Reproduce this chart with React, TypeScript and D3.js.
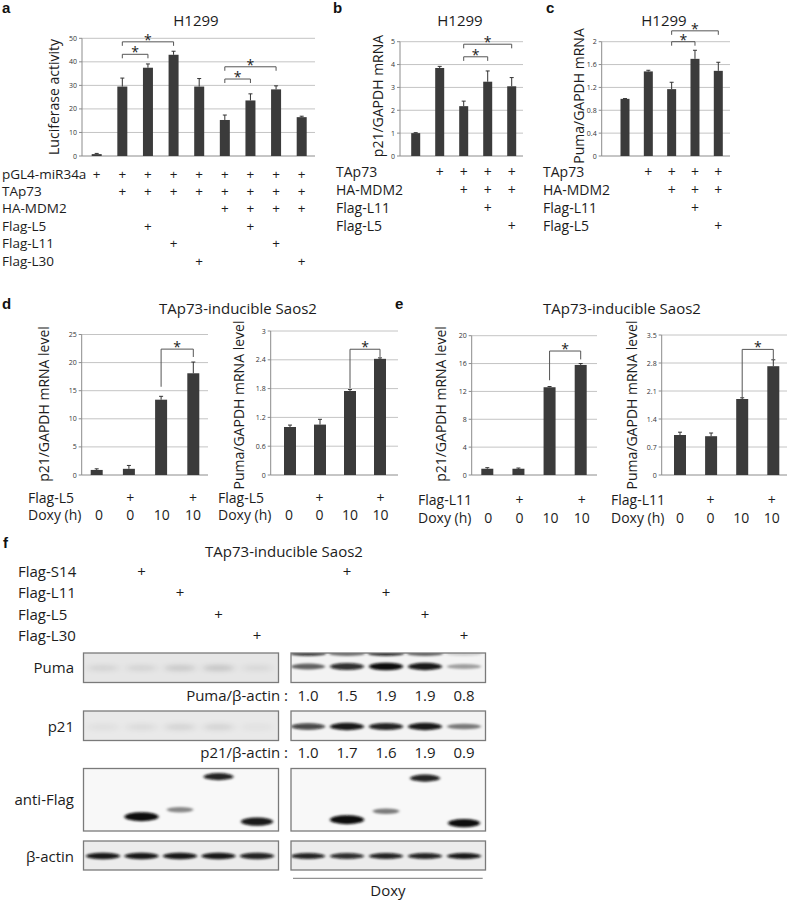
import React from "react";
import * as d3 from "d3";

const FONT = "'Open Sans', 'DejaVu Sans', sans-serif";
const BAR = "#3b3b3b";
const GRID = "#c4c4c4";
const AXIS = "#8c8c8c";
const INK = "#1c1c1c";

// ---------- Panel a (H1299, luciferase)
const aTicks = [0, 10, 20, 30, 40, 50];
const aValues = [0.8, 29.5, 37.5, 43.0, 29.5, 15.3, 23.6, 28.3, 16.5];
const aErrors = [0.3, 3.6, 1.6, 1.5, 3.4, 2.1, 2.8, 1.5, 0.4];
const aRowLabels = ["pGL4-miR34a", "TAp73", "HA-MDM2", "Flag-L5", "Flag-L11", "Flag-L30"];
const aRows = [
  ["+", "+", "+", "+", "+", "+", "+", "+", "+"],
  ["", "+", "+", "+", "+", "+", "+", "+", "+"],
  ["", "", "", "", "", "+", "+", "+", "+"],
  ["", "", "+", "", "", "", "+", "", ""],
  ["", "", "", "+", "", "", "", "+", ""],
  ["", "", "", "", "+", "", "", "", "+"],
];
// [from bar, to bar, bracket level, left end, right end]
const aSig = [
  [1, 2, 43.2, 41.5, 41.5],
  [1, 3, 48.5, 46.8, 46.8],
  [5, 6, 32.7, 31.0, 31.0],
  [5, 7, 37.9, 36.2, 36.2],
];

// ---------- Panel b (p21 mRNA)
const bTicks = [0, 1, 2, 3, 4, 5];
const bValues = [1.0, 3.85, 2.18, 3.25, 3.05];
const bErrors = [0.02, 0.07, 0.22, 0.47, 0.38];
const bcRowLabels = ["TAp73", "HA-MDM2", "Flag-L11", "Flag-L5"];
const bcRows = [
  ["", "+", "+", "+", "+"],
  ["", "", "+", "+", "+"],
  ["", "", "", "+", ""],
  ["", "", "", "", "+"],
];
const bSig = [
  [2, 3, 4.34, 4.16, 4.16],
  [2, 4, 4.89, 4.71, 4.71],
];

// ---------- Panel c (Puma mRNA)
const cTicks = [0, 0.4, 0.8, 1.2, 1.6, 2];
const cValues = [1.0, 1.48, 1.17, 1.7, 1.49];
const cErrors = [0.005, 0.02, 0.12, 0.15, 0.15];
const cSig = [
  [2, 3, 2.0, 1.93, 1.93],
  [2, 4, 2.19, 2.12, 2.12],
];

// ---------- Panel d (Flag-L5, inducible Saos2)
const d1Ticks = [0, 5, 10, 15, 20, 25];
const d1Values = [0.9, 1.1, 13.4, 18.1];
const d1Errors = [0.2, 0.6, 0.6, 2.0];
const d1Sig = [[2, 3, 22.4, 15.7, 21.0]];
const d2Ticks = [0, 0.6, 1.2, 1.8, 2.4, 3];
const d2Values = [1.0, 1.05, 1.75, 2.42];
const d2Errors = [0.04, 0.11, 0.03, 0.02];
const d2Sig = [[2, 3, 2.62, 1.81, 2.46]];
const dFlagRow = ["", "+", "", "+"];
const doxyRow = ["0", "0", "10", "10"];

// ---------- Panel e (Flag-L11, inducible Saos2)
const e1Ticks = [0, 4, 8, 12, 16, 20];
const e1Values = [0.9, 0.9, 12.6, 15.8];
const e1Errors = [0.15, 0.1, 0.1, 0.2];
const e1Sig = [[2, 3, 17.8, 13.6, 16.6]];
const e2Ticks = [0, 0.7, 1.4, 2.1, 2.8, 3.5];
const e2Values = [1.0, 0.97, 1.9, 2.72];
const e2Errors = [0.07, 0.08, 0.03, 0.16];
const e2Sig = [[2, 3, 3.14, 1.93, 2.9]];
const eFlagRow = ["", "+", "", "+"];

// ---------- Panel f (western blots)
const fConstructs = ["Flag-S14", "Flag-L11", "Flag-L5", "Flag-L30"];
const fConstructLane = [1, 2, 3, 4];
const lanes = [0, 1, 2, 3, 4];
const pumaNoDoxy = [0.1, 0.1, 0.16, 0.18, 0.08];
const pumaDoxy = [0.6, 0.85, 1.0, 0.95, 0.35];
const pumaDoxyUpper = [0.8, 0.55, 0.85, 0.6, 0.15];
const p21NoDoxy = [0.05, 0.07, 0.1, 0.1, 0.04];
const p21Doxy = [0.75, 0.95, 0.9, 0.95, 0.5];
const flagNoDoxy = [0, 1.0, 0.45, 0.9, 0.95];
const flagDoxy = [0, 1.0, 0.5, 0.9, 1.0];
const flagMigration = [0, 0.77, 0.66, 0.13, 0.85];
const flagBandSize = [0, 1.0, 0.45, 0.7, 0.85];
const actinNoDoxy = [0.95, 0.95, 0.95, 0.95, 0.9];
const actinDoxy = [0.9, 0.85, 0.9, 0.9, 0.95];
const pumaRatio = ["1.0", "1.5", "1.9", "1.9", "0.8"];
const p21Ratio = ["1.0", "1.7", "1.6", "1.9", "0.9"];

type Sig = number[];

function BarChart(p: {
  values: number[]; errors: number[]; ticks: number[]; sig: Sig[];
  x0: number; x1: number; yTop: number; yBottom: number;
  firstX: number; lastX: number; barW: number;
}) {
  const y = d3.scaleLinear().domain([0, p.ticks[p.ticks.length - 1]]).range([p.yBottom, p.yTop]);
  const x = d3.scalePoint<number>().domain(d3.range(p.values.length)).range([p.firstX, p.lastX]);
  return (
    <g>
      {p.ticks.map((t) => (
        <g key={t}>
          <line x1={p.x0} x2={p.x1} y1={y(t)} y2={y(t)} stroke={t === 0 ? AXIS : GRID} strokeWidth={1} />
          <line x1={p.x0 - 3} x2={p.x0} y1={y(t)} y2={y(t)} stroke={AXIS} strokeWidth={1} />
          <text x={p.x0 - 5} y={y(t)} fontSize={7} textAnchor="end" dominantBaseline="central" fill="#333">
            {String(t)}
          </text>
        </g>
      ))}
      <line x1={p.x0} x2={p.x0} y1={p.yTop} y2={p.yBottom} stroke={AXIS} strokeWidth={1} />
      {p.values.map((v, i) => (
        <g key={i}>
          <rect x={(x(i) as number) - p.barW / 2} y={y(v)} width={p.barW} height={p.yBottom - y(v)} fill={BAR} />
          <line x1={x(i)} x2={x(i)} y1={y(v)} y2={y(v + p.errors[i])} stroke="#333" strokeWidth={1} />
          <line x1={(x(i) as number) - 2} x2={(x(i) as number) + 2} y1={y(v + p.errors[i])} y2={y(v + p.errors[i])} stroke="#333" strokeWidth={1} />
        </g>
      ))}
      {p.sig.map((s, k) => {
        const xa = x(s[0]) as number;
        const xb = x(s[1]) as number;
        return (
          <g key={k}>
            <path d={`M${xa},${y(s[3])}V${y(s[2])}H${xb}V${y(s[4])}`} fill="none" stroke="#555" strokeWidth={1} />
            <text x={(xa + xb) / 2} y={y(s[2]) + 3} fontSize={14} textAnchor="middle" fill={INK}>*</text>
          </g>
        );
      })}
    </g>
  );
}

function Rows(p: { labels: string[]; rows: string[][]; labelX: number; firstX: number; lastX: number; y0: number; step: number; fontSize: number }) {
  const x = d3.scalePoint<number>().domain(d3.range(p.rows[0].length)).range([p.firstX, p.lastX]);
  return (
    <g fontSize={p.fontSize} fill={INK}>
      {p.labels.map((l, r) => (
        <g key={r}>
          <text x={p.labelX} y={p.y0 + r * p.step} dominantBaseline="central">{l}</text>
          {p.rows[r].map((s, i) => (
            <text key={i} x={x(i)} y={p.y0 + r * p.step} textAnchor="middle" dominantBaseline="central">{s}</text>
          ))}
        </g>
      ))}
    </g>
  );
}

function YLabel({ x, y, text }: { x: number; y: number; text: string }) {
  return (
    <text transform={`translate(${x},${y}) rotate(-90)`} textAnchor="middle" dominantBaseline="central" fontSize={14} fill={INK}>
      {text}
    </text>
  );
}

function BlotBox(p: { id: string; x0: number; x1: number; y0: number; y1: number; bg: string; children?: React.ReactNode }) {
  return (
    <g>
      <clipPath id={p.id}>
        <rect x={p.x0} y={p.y0} width={p.x1 - p.x0} height={p.y1 - p.y0} />
      </clipPath>
      <rect x={p.x0} y={p.y0} width={p.x1 - p.x0} height={p.y1 - p.y0} fill={p.bg} />
      <g clipPath={`url(#${p.id})`}>{p.children}</g>
      <rect x={p.x0} y={p.y0} width={p.x1 - p.x0} height={p.y1 - p.y0} fill="none" stroke="#7a7a7a" strokeWidth={1.3} />
    </g>
  );
}

function Bands(p: { lane: d3.ScalePoint<number>; intens: number[]; y: (i: number) => number; rx: (i: number) => number; ry: (i: number) => number; blur?: string }) {
  return (
    <g filter={`url(#${p.blur || "blur"})`}>
      {p.intens.map((v, i) =>
        v > 0 ? <ellipse key={i} cx={p.lane(i)} cy={p.y(i)} rx={p.rx(i)} ry={p.ry(i)} fill="#0a0a0a" opacity={v} /> : null
      )}
    </g>
  );
}

export default function App() {
  const laneL = d3.scalePoint<number>().domain(lanes).range([103, 257]);
  const laneR = d3.scalePoint<number>().domain(lanes).range([308, 464]);
  const L = { x0: 83.5, x1: 278.5 };
  const R = { x0: 291, x1: 485.5 };
  const puma = { y0: 653, y1: 682.5 };
  const p21 = { y0: 711, y1: 740.5 };
  const flag = { y0: 768.5, y1: 831 };
  const actin = { y0: 841, y1: 870 };
  const flagY = (i: number) => flag.y0 + flagMigration[i] * (flag.y1 - flag.y0);

  return (
    <svg width={790} height={901} style={{ position: "absolute", left: 0, top: 0, background: "#fff" }} fontFamily={FONT}>
      <defs>
        <filter id="blur" x="-20%" y="-200%" width="140%" height="500%">
          <feGaussianBlur stdDeviation="1.4 1.1" />
        </filter>
        <filter id="blur2" x="-20%" y="-200%" width="140%" height="500%">
          <feGaussianBlur stdDeviation="3 2.5" />
        </filter>
      </defs>

      {/* panel letters */}
      <g fontFamily="'Liberation Sans', Arial, sans-serif" fontWeight="bold" fontSize={15} fill="#111">
        <text x={2} y={13}>a</text>
        <text x={333} y={13}>b</text>
        <text x={546} y={13}>c</text>
        <text x={2} y={309}>d</text>
        <text x={395} y={309}>e</text>
        <text x={3} y={548}>f</text>
      </g>

      {/* ---------- a ---------- */}
      <text x={196} y={26} fontSize={15} textAnchor="middle" fill={INK}>H1299</text>
      <YLabel x={53} y={97} text="Luciferase activity" />
      <BarChart values={aValues} errors={aErrors} ticks={aTicks} sig={aSig}
        x0={82} x1={315} yTop={38.3} yBottom={156} firstX={96.7} lastX={301.7} barW={10} />
      <Rows labels={aRowLabels} rows={aRows} labelX={2} firstX={96.7} lastX={301.7} y0={173.5} step={17.4} fontSize={13.5} />

      {/* ---------- b ---------- */}
      <text x={460} y={26} fontSize={15} textAnchor="middle" fill={INK}>H1299</text>
      <YLabel x={377} y={96} text="p21/GAPDH mRNA" />
      <BarChart values={bValues} errors={bErrors} ticks={bTicks} sig={bSig}
        x0={400} x1={523} yTop={41.7} yBottom={156} firstX={415.7} lastX={511.7} barW={9} />
      <Rows labels={bcRowLabels} rows={bcRows} labelX={336} firstX={415.7} lastX={511.7} y0={171} step={18} fontSize={14} />

      {/* ---------- c ---------- */}
      <text x={664} y={26} fontSize={15} textAnchor="middle" fill={INK}>H1299</text>
      <YLabel x={578} y={96} text="Puma/GAPDH mRNA" />
      <BarChart values={cValues} errors={cErrors} ticks={cTicks} sig={cSig}
        x0={601.7} x1={730} yTop={41.7} yBottom={156} firstX={625} lastX={718.3} barW={9} />
      <Rows labels={bcRowLabels} rows={bcRows} labelX={543} firstX={625} lastX={718.3} y0={171} step={18} fontSize={14} />

      {/* ---------- d ---------- */}
      <text x={238} y={314} fontSize={15} textAnchor="middle" fill={INK}>TAp73-inducible Saos2</text>
      <YLabel x={43} y={404} text="p21/GAPDH mRNA level" />
      <BarChart values={d1Values} errors={d1Errors} ticks={d1Ticks} sig={d1Sig}
        x0={81.7} x1={208} yTop={334.5} yBottom={475} firstX={96.7} lastX={193.3} barW={12} />
      <Rows labels={["Flag-L5", "Doxy (h)"]} rows={[dFlagRow, doxyRow]} labelX={28} firstX={99} lastX={193} y0={497} step={17.5} fontSize={14} />
      <YLabel x={238} y={405} text="Puma/GAPDH mRNA level" />
      <BarChart values={d2Values} errors={d2Errors} ticks={d2Ticks} sig={d2Sig}
        x0={270.7} x1={398} yTop={331} yBottom={475} firstX={290} lastX={380} barW={12} />
      <Rows labels={["Flag-L5", "Doxy (h)"]} rows={[dFlagRow, doxyRow]} labelX={218} firstX={289} lastX={380.5} y0={497} step={17.5} fontSize={14} />

      {/* ---------- e ---------- */}
      <text x={622} y={314} fontSize={15} textAnchor="middle" fill={INK}>TAp73-inducible Saos2</text>
      <YLabel x={440} y={404} text="p21/GAPDH mRNA level" />
      <BarChart values={e1Values} errors={e1Errors} ticks={e1Ticks} sig={e1Sig}
        x0={471.7} x1={597} yTop={335.7} yBottom={475} firstX={487.3} lastX={580.7} barW={12} />
      <Rows labels={["Flag-L11", "Doxy (h)"]} rows={[eFlagRow, doxyRow]} labelX={418} firstX={488.3} lastX={581.7} y0={499} step={18} fontSize={14} />
      <YLabel x={631} y={405} text="Puma/GAPDH mRNA level" />
      <BarChart values={e2Values} errors={e2Errors} ticks={e2Ticks} sig={e2Sig}
        x0={661.7} x1={787} yTop={335} yBottom={475} firstX={680} lastX={773.3} barW={12} />
      <Rows labels={["Flag-L11", "Doxy (h)"]} rows={[eFlagRow, doxyRow]} labelX={611} firstX={680} lastX={771.7} y0={499} step={18} fontSize={14} />

      {/* ---------- f ---------- */}
      <text x={284} y={557} fontSize={15} textAnchor="middle" fill={INK}>TAp73-inducible Saos2</text>
      <g fontSize={15} fill={INK}>
        {fConstructs.map((c, r) => (
          <g key={c}>
            <text x={18} y={571 + r * 21.3} dominantBaseline="central">{c}</text>
            <text x={laneL(fConstructLane[r])} y={571 + r * 21.3} textAnchor="middle" dominantBaseline="central">+</text>
            <text x={laneR(fConstructLane[r])} y={571 + r * 21.3} textAnchor="middle" dominantBaseline="central">+</text>
          </g>
        ))}
      </g>
      <g fontSize={15} fill={INK} textAnchor="end" dominantBaseline="central">
        <text x={74} y={667}>Puma</text>
        <text x={74} y={725.5}>p21</text>
        <text x={74} y={799}>anti-Flag</text>
        <text x={74} y={855.5}>β-actin</text>
      </g>

      {/* Puma */}
      <BlotBox id="cpL" {...L} {...puma} bg="#e6e6e6">
        <Bands lane={laneL} intens={pumaNoDoxy} y={() => 668} rx={() => 16} ry={() => 2.5} blur="blur2" />
      </BlotBox>
      <BlotBox id="cpR" {...R} {...puma} bg="#f3f3f3">
        <Bands lane={laneR} intens={pumaDoxyUpper} y={() => 653.5} rx={() => 18} ry={() => 2.5} />
        <Bands lane={laneR} intens={pumaDoxy} y={() => 666.5} rx={() => 17} ry={(i) => 1.8 + pumaDoxy[i] * 2} />
      </BlotBox>
      <g fontSize={15} fill={INK} dominantBaseline="central">
        <text x={288} y={695} textAnchor="end">Puma/β-actin :</text>
        {pumaRatio.map((r, i) => (
          <text key={i} x={laneR(i)} y={695} textAnchor="middle">{r}</text>
        ))}
      </g>

      {/* p21 */}
      <BlotBox id="c21L" {...L} {...p21} bg="#e9e9e9">
        <Bands lane={laneL} intens={p21NoDoxy} y={() => 727} rx={() => 16} ry={() => 3} blur="blur2" />
      </BlotBox>
      <BlotBox id="c21R" {...R} {...p21} bg="#f3f3f3">
        <Bands lane={laneR} intens={p21Doxy} y={() => 726.5} rx={() => 17} ry={(i) => 1.8 + p21Doxy[i] * 2} />
      </BlotBox>
      <g fontSize={15} fill={INK} dominantBaseline="central">
        <text x={288} y={752} textAnchor="end">p21/β-actin :</text>
        {p21Ratio.map((r, i) => (
          <text key={i} x={laneR(i)} y={752} textAnchor="middle">{r}</text>
        ))}
      </g>

      {/* anti-Flag */}
      <BlotBox id="cfL" {...L} {...flag} bg="#f8f8f8">
        <Bands lane={laneL} intens={flagNoDoxy} y={flagY} rx={(i) => 10 + flagBandSize[i] * 7} ry={(i) => 1.2 + flagBandSize[i] * 3.3} />
      </BlotBox>
      <BlotBox id="cfR" {...R} {...flag} bg="#f8f8f8">
        <Bands lane={laneR} intens={flagDoxy} y={(i) => flagY(i) + (i === 1 ? 3 : 1.5)} rx={(i) => 10 + flagBandSize[i] * 7} ry={(i) => 1.2 + flagBandSize[i] * 3.3} />
      </BlotBox>

      {/* beta-actin */}
      <BlotBox id="caL" {...L} {...actin} bg="#ececec">
        <Bands lane={laneL} intens={actinNoDoxy} y={() => 856} rx={() => 17} ry={() => 3.2} />
      </BlotBox>
      <BlotBox id="caR" {...R} {...actin} bg="#ececec">
        <Bands lane={laneR} intens={actinDoxy} y={() => 856} rx={() => 17} ry={() => 3} />
      </BlotBox>

      <line x1={293} x2={482.7} y1={878.3} y2={878.3} stroke="#777" strokeWidth={1} />
      <text x={388} y={890} fontSize={15} textAnchor="middle" dominantBaseline="central" fill={INK}>Doxy</text>
    </svg>
  );
}
